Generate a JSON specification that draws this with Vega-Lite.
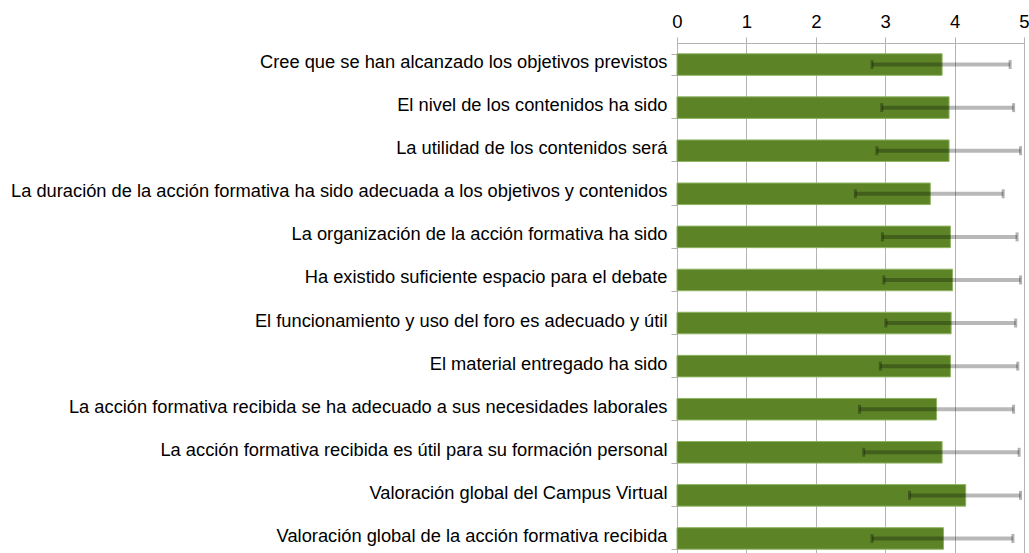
{
  "$schema": "https://vega.github.io/schema/vega-lite/v6.json",
  "autosize": {"type": "none"},
  "padding": {"left": 677, "top": 43, "right": 5, "bottom": 0},
  "width": 347,
  "height": 517,
  "background": "white",
  "data": {
    "values": [
      {"item": "Cree que se han alcanzado los objetivos previstos", "media": 3.82, "lo": 2.81, "hi": 4.80},
      {"item": "El nivel de los contenidos ha sido", "media": 3.92, "lo": 2.95, "hi": 4.85},
      {"item": "La utilidad de los contenidos será", "media": 3.92, "lo": 2.88, "hi": 4.95},
      {"item": "La duración de la acción formativa ha sido adecuada a los objetivos y contenidos", "media": 3.65, "lo": 2.57, "hi": 4.70},
      {"item": "La organización de la acción formativa ha sido", "media": 3.94, "lo": 2.96, "hi": 4.90},
      {"item": "Ha existido suficiente espacio para el debate", "media": 3.97, "lo": 2.98, "hi": 4.95},
      {"item": "El funcionamiento y uso del foro es adecuado y útil", "media": 3.95, "lo": 3.01, "hi": 4.88},
      {"item": "El material entregado ha sido", "media": 3.94, "lo": 2.93, "hi": 4.91},
      {"item": "La acción formativa recibida se ha adecuado a sus necesidades laborales", "media": 3.74, "lo": 2.63, "hi": 4.85},
      {"item": "La acción formativa recibida es útil para su formación personal", "media": 3.82, "lo": 2.69, "hi": 4.93},
      {"item": "Valoración global del Campus Virtual", "media": 4.16, "lo": 3.35, "hi": 4.95},
      {"item": "Valoración global de la acción formativa recibida", "media": 3.84, "lo": 2.81, "hi": 4.84}
    ]
  },
  "config": {
    "view": {"stroke": null},
    "axis": {"gridColor": "#b3b3b3", "domainColor": "#b3b3b3", "tickColor": "#b3b3b3", "labelColor": "#000000"}
  },
  "resolve": {"axis": {"x": "independent"}},
  "encoding": {
    "y": {
      "field": "item", "type": "nominal", "sort": null, "title": null,
      "scale": {"paddingInner": 0.5, "paddingOuter": 0.25},
      "axis": {
        "tickBand": "extent", "tickSize": 6, "labelPadding": 4, "labelLimit": 0, "labelOffset": -2,
        "labelFont": "Liberation Sans", "labelFontSize": 18.3, "grid": false, "domain": true
      }
    }
  },
  "layer": [
    {
      "mark": {"type": "bar", "color": "#5c8427", "stroke": "#8fb462", "strokeWidth": 1},
      "encoding": {
        "x": {
          "field": "media", "type": "quantitative", "title": null,
          "scale": {"domain": [0, 5], "nice": false, "zero": true},
          "axis": {
            "orient": "top", "values": [0, 1, 2, 3, 4, 5], "tickCount": 6, "format": "d", "title": null,
            "labelFont": "Liberation Sans", "labelFontSize": 18.5, "labelPadding": 6,
            "tickSize": 6, "grid": true, "domain": true, "labelFlush": false, "labelOverlap": false
          }
        }
      }
    },
    {
      "mark": {"type": "rule", "color": "#000000", "opacity": 0.28, "strokeWidth": 4},
      "encoding": {
        "x": {"field": "lo", "type": "quantitative", "axis": null},
        "x2": {"field": "hi"}
      }
    },
    {
      "mark": {"type": "tick", "color": "#000000", "opacity": 0.3, "size": 9, "thickness": 3},
      "encoding": {"x": {"field": "lo", "type": "quantitative", "axis": null}}
    },
    {
      "mark": {"type": "tick", "color": "#000000", "opacity": 0.3, "size": 9, "thickness": 3},
      "encoding": {"x": {"field": "hi", "type": "quantitative", "axis": null}}
    }
  ]
}
